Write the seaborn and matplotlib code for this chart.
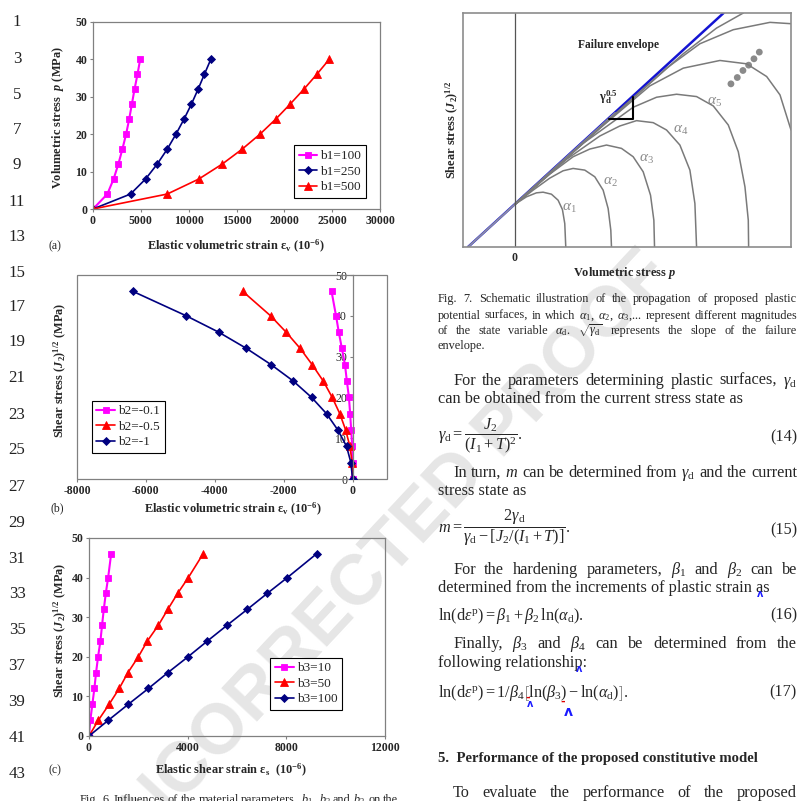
import matplotlib.pyplot as plt
import seaborn as sns
from matplotlib.patches import Rectangle

# ---------------- data read from the page ----------------
# Fig. 6(a): volumetric stress p vs elastic volumetric strain
p_a = [0, 4, 8, 12, 16, 20, 24, 28, 32, 36, 40]
ev_b1_100 = [0, 1500, 2150, 2650, 3070, 3460, 3780, 4060, 4340, 4650, 4930]
ev_b1_250 = [0, 3920, 5490, 6710, 7760, 8670, 9510, 10280, 10980, 11640, 12310]
ev_b1_500 = [0, 7760, 11050, 13500, 15590, 17450, 19090, 20590, 22030, 23390, 24690]
ticks_a_x = [0, 5000, 10000, 15000, 20000, 25000, 30000]

# Fig. 6(b): shear stress vs elastic volumetric strain
q_b = [0, 4, 8, 12, 16, 20, 24, 28, 32, 36, 40, 46]
ev_b2_01 = [0, 0, -10, -40, -70, -105, -165, -220, -310, -400, -480, -610]
ev_b2_05 = [0, -10, -77, -200, -370, -590, -850, -1170, -1520, -1930, -2380, -3190]
ev_b2_1 = [0, -48, -174, -426, -755, -1190, -1720, -2360, -3080, -3890, -4830, -6380]
ticks_b_x = [-8000, -6000, -4000, -2000, 0]

# Fig. 6(c): shear stress vs elastic shear strain
q_c = [0, 4, 8, 12, 16, 20, 24, 28, 32, 36, 40, 46]
es_b3_10 = [0, 54, 136, 218, 286, 367, 463, 530, 600, 680, 776, 898]
es_b3_50 = [0, 381, 816, 1224, 1578, 2000, 2367, 2816, 3197, 3592, 4027, 4626]
es_b3_100 = [0, 789, 1592, 2408, 3197, 4014, 4803, 5605, 6422, 7224, 8041, 9224]
ticks_c_x = [0, 4000, 8000, 12000]
ticks_y = [0, 10, 20, 30, 40, 50]

# Fig. 7 schematic (arbitrary units)
env_x = [-1.41, 6.25]
env_y = [0.0, 7.0]
env_gray_x = [-1.41, 3.0]
env_gray_y = [0.0, 4.01]
alpha1_x = [0, 0.34, 0.64, 0.84, 1.09, 1.29, 1.42, 1.49, 1.52]
alpha1_y = [1.28, 1.50, 1.62, 1.64, 1.58, 1.40, 1.12, 0.70, 0.0]
alpha2_x = [0, 0.54, 1.04, 1.44, 1.74, 2.09, 2.39, 2.64, 2.79, 2.87, 2.89]
alpha2_y = [1.28, 1.70, 2.06, 2.28, 2.35, 2.30, 2.10, 1.70, 1.15, 0.50, 0.0]
alpha3_x = [0, 1.04, 1.74, 2.24, 2.74, 3.19, 3.54, 3.84, 4.06, 4.16, 4.18]
alpha3_y = [1.28, 2.18, 2.70, 2.93, 3.05, 2.95, 2.70, 2.25, 1.55, 0.80, 0.0]
alpha4_x = [0, 1.54, 2.54, 3.14, 3.64, 4.14, 4.54, 4.94, 5.24, 5.39, 5.44]
alpha4_y = [1.28, 2.62, 3.32, 3.62, 3.78, 3.72, 3.50, 3.05, 2.30, 1.30, 0.0]
alpha5_x = [0, 2.04, 3.54, 4.24, 4.84, 5.44, 5.94, 6.39, 6.69, 6.89, 6.99, 7.00]
alpha5_y = [1.28, 3.10, 4.18, 4.48, 4.57, 4.50, 4.22, 3.65, 2.85, 1.80, 0.80, 0.0]
alpha6_x = [0, 2.54, 4.04, 5.04, 6.14, 6.94, 7.54, 7.94, 8.27]
alpha6_y = [1.28, 3.55, 4.82, 5.35, 5.58, 5.48, 5.10, 4.55, 3.50]
alpha7_x = [0, 3.04, 4.54, 5.54, 6.54, 7.64, 8.27]
alpha7_y = [1.28, 4.02, 5.35, 6.08, 6.50, 6.72, 6.68]
alpha8_x = [0, 3.54, 5.04, 6.04, 6.84]
alpha8_y = [1.28, 4.45, 5.78, 6.55, 7.00]
dots_x = [6.47, 6.66, 6.83, 7.00, 7.16, 7.32]
dots_y = [4.88, 5.07, 5.28, 5.44, 5.63, 5.83]
slope_tri_x = [2.82, 3.54, 3.54]
slope_tri_y = [3.83, 3.83, 4.50]
alpha_lab_x = [1.64, 2.86, 3.94, 4.96, 5.99]
alpha_lab_y = [1.15, 1.92, 2.62, 3.50, 4.33]

line_numbers = list(range(1, 44, 2))
line_number_y = [22, 59, 95, 130, 165, 202, 237, 273, 307, 342, 378, 415,
                 450, 487, 523, 559, 594, 630, 666, 702, 738, 774]

# ---------------- style ----------------
sns.set_style('white')
plt.rcParams['font.family'] = ['Liberation Serif', 'DejaVu Serif']
plt.rcParams['axes.unicode_minus'] = False
plt.rcParams['mathtext.fontset'] = 'custom'
plt.rcParams['mathtext.rm'] = 'Liberation Serif'
plt.rcParams['mathtext.it'] = 'Liberation Serif:italic'
plt.rcParams['mathtext.bf'] = 'Liberation Serif:bold'
plt.rcParams['mathtext.bfit'] = 'Liberation Serif:italic:bold'

MAG, NAVY, RED = '#FF00FF', '#000080', '#FF0000'
FRAME = '#808080'
W = H = 801

fig = plt.figure(figsize=(W / 100, H / 100), dpi=100)
renderer = fig.canvas.get_renderer()


def fx(x):
    return x / W


def fy(y):
    return 1 - y / H


def put(x, y, s, **kw):
    return fig.text(fx(x), fy(y), s, **kw)


def justify(words, x0, x1, y, size, **kw):
    arts = [put(x0, y, w, fontsize=size, va='baseline', ha='left', **kw) for w in words]
    widths = [a.get_window_extent(renderer).width for a in arts]
    gap = (x1 - x0 - sum(widths)) / max(len(words) - 1, 1)
    x = x0
    for a, w in zip(arts, widths):
        a.set_x(fx(x))
        x += w + gap


def make_axes(x0, y0, x1, y1):
    ax = fig.add_axes([fx(x0), fy(y1), (x1 - x0) / W, (y1 - y0) / H])
    ax.set_facecolor('none')
    return ax


def series(ax, xs, ys, label, color, marker, ms, lw):
    sns.lineplot(x=xs, y=ys, ax=ax, color=color, marker=marker, markersize=ms,
                 markeredgecolor=color, markeredgewidth=0.6, linewidth=lw,
                 label=label, estimator=None, sort=False)


def finish_chart(ax, xlim, xticks, loc, anchor):
    ax.set_xlim(*xlim)
    ax.set_ylim(0, 50)
    ax.set_xticks(xticks, labels=[str(t) for t in xticks], fontweight='bold')
    ax.set_yticks(ticks_y, labels=[str(t) for t in ticks_y], fontweight='bold')
    ax.tick_params(direction='out', length=2.5, width=0.8, color=FRAME,
                   labelsize=8.5, pad=1.5, bottom=True, left=True)
    for s in ax.spines.values():
        s.set_color(FRAME)
        s.set_linewidth(0.9)
    ax.set_xlabel('')
    ax.set_ylabel('')
    leg = ax.legend(loc=loc, bbox_to_anchor=anchor, frameon=True, fancybox=False,
                    edgecolor='black', framealpha=1, fontsize=9.5, handlelength=1.4,
                    handletextpad=0.25, borderpad=0.35, labelspacing=0.25,
                    borderaxespad=0)
    leg.get_frame().set_linewidth(0.8)


# watermark behind everything
put(380, 565, 'UNCORRECTED PROOF', rotation=47, fontsize=51, fontweight='bold',
    family='Liberation Sans', color='#e6e6e6', ha='center', va='center', zorder=-1)

# line numbers
for n, y in zip(line_numbers, line_number_y):
    put(17, y, str(n), fontsize=12.2, ha='center', va='center', color='#222222')

# ---------------- Fig. 6(a) ----------------
ax_a = make_axes(93, 22, 380, 209)
series(ax_a, ev_b1_100, p_a, 'b1=100', MAG, 's', 5, 1.5)
series(ax_a, ev_b1_250, p_a, 'b1=250', NAVY, 'D', 3.6, 1.2)
series(ax_a, ev_b1_500, p_a, 'b1=500', RED, '^', 5.5, 1.2)
finish_chart(ax_a, (0, 30000), ticks_a_x, 'lower right', (0.951, 0.059))
put(236, 246, r'Elastic volumetric strain ε$_\mathbf{v}$ (10$^{\mathbf{-6}}$)',
    fontsize=8.9, fontweight='bold', ha='center', va='center')
put(58, 118, r'Volumetric stress  $\mathbfit{p}$ (MPa)', fontsize=8.9,
    fontweight='bold', ha='center', va='center', rotation=90)
put(55, 246, '(a)', fontsize=8.5, ha='center', va='center')

# ---------------- Fig. 6(b) ----------------
ax_b = make_axes(77, 275, 387, 479)
series(ax_b, ev_b2_01, q_b, 'b2=-0.1', MAG, 's', 5, 1.5)
series(ax_b, ev_b2_05, q_b, 'b2=-0.5', RED, '^', 5.5, 1.2)
series(ax_b, ev_b2_1, q_b, 'b2=-1', NAVY, 'D', 3.6, 1.2)
finish_chart(ax_b, (-8000, 1000), ticks_b_x, 'lower left', (0.048, 0.127))
ax_b.spines['left'].set_position(('data', 0))
for side in ('top', 'right', 'bottom'):
    ax_b.spines[side].set_visible(False)
ax_b.add_patch(Rectangle((0, 0), 1, 1, transform=ax_b.transAxes, fill=False,
                         edgecolor=FRAME, linewidth=0.9, clip_on=False))
put(233, 509, r'Elastic volumetric strain ε$_\mathbf{v}$ (10$^{\mathbf{-6}}$)',
    fontsize=8.9, fontweight='bold', ha='center', va='center')
put(60, 370, r'Shear stress ($\mathbfit{J}_\mathbf{2}$)$^\mathbf{1/2}$ (MPa)',
    fontsize=8.9, fontweight='bold', ha='center', va='center', rotation=90)
put(57, 508, '(b)', fontsize=8.5, ha='center', va='center')

# ---------------- Fig. 6(c) ----------------
ax_c = make_axes(89, 538, 385, 736)
series(ax_c, es_b3_10, q_c, 'b3=10', MAG, 's', 5, 1.5)
series(ax_c, es_b3_50, q_c, 'b3=50', RED, '^', 5.5, 1.2)
series(ax_c, es_b3_100, q_c, 'b3=100', NAVY, 'D', 3.6, 1.2)
finish_chart(ax_c, (0, 12000), ticks_c_x, 'lower right', (0.855, 0.131))
put(231, 770, r'Elastic shear strain ε$_\mathbf{s}$  (10$^{\mathbf{-6}}$)',
    fontsize=8.9, fontweight='bold', ha='center', va='center')
put(60, 630, r'Shear stress ($\mathbfit{J}_\mathbf{2}$)$^\mathbf{1/2}$ (MPa)',
    fontsize=8.9, fontweight='bold', ha='center', va='center', rotation=90)
put(55, 770, '(c)', fontsize=8.5, ha='center', va='center')

justify(['Fig.', '6.', 'Influences', 'of', 'the', 'material', 'parameters,',
         r'$b_1$,', r'$b_2$', 'and', r'$b_3$', 'on', 'the'], 80, 398, 803, 8.8)

# ---------------- Fig. 7 schematic ----------------
ax7 = make_axes(463, 13, 791, 247)
sns.lineplot(x=env_x, y=env_y, ax=ax7, color='#1414d2', linewidth=1.8,
             estimator=None, sort=False)
sns.lineplot(x=env_gray_x, y=env_gray_y, ax=ax7, color='#8a8aa6', linewidth=1.4,
             estimator=None, sort=False)
for cx, cy in [(alpha1_x, alpha1_y), (alpha2_x, alpha2_y), (alpha3_x, alpha3_y),
               (alpha4_x, alpha4_y), (alpha5_x, alpha5_y), (alpha6_x, alpha6_y),
               (alpha7_x, alpha7_y), (alpha8_x, alpha8_y)]:
    sns.lineplot(x=cx, y=cy, ax=ax7, color='#7a7a7a', linewidth=1.1,
                 estimator=None, sort=False)
sns.scatterplot(x=dots_x, y=dots_y, ax=ax7, color='#8a8a8a', s=24, edgecolor='none')
sns.lineplot(x=slope_tri_x, y=slope_tri_y, ax=ax7, color='black', linewidth=1.5,
             estimator=None, sort=False)
ax7.axvline(0, color='#555555', linewidth=0.9)
for i, (lx, ly) in enumerate(zip(alpha_lab_x, alpha_lab_y), start=1):
    ax7.text(lx, ly, rf'$\alpha_{i}$', color='#8a8a8a', fontsize=11,
             ha='center', va='center')
ax7.text(3.09, 6.05, 'Failure envelope', fontsize=8.3, fontweight='bold',
         ha='center', va='center')
ax7.text(2.79, 4.45, r'$\mathbf{\gamma}_\mathbf{d}^{\mathbf{0.5}}$', fontsize=9,
         ha='center', va='center')
ax7.set_xlim(-1.56, 8.27)
ax7.set_ylim(0, 7.0)
ax7.set_xticks([])
ax7.set_yticks([])
ax7.set_xlabel('')
ax7.set_ylabel('')
for s in ax7.spines.values():
    s.set_color('#8c8c8c')
    s.set_linewidth(1.2)
put(515, 258, '0', fontsize=8.5, fontweight='bold', ha='center', va='center')
put(625, 273, r'Volumetric stress $\mathbfit{p}$', fontsize=8.9, fontweight='bold',
    ha='center', va='center')
put(452, 130, r'Shear stress ($\mathbfit{J}_\mathbf{2}$)$^\mathbf{1/2}$', fontsize=8.9,
    fontweight='bold', ha='center', va='center', rotation=90)

# ---------------- right column text ----------------
CAP, BODY = 8.8, 11.7
L0, L1, IND = 438, 797, 453

justify(['Fig.', '7.', 'Schematic', 'illustration', 'of', 'the', 'propagation', 'of',
         'proposed', 'plastic'], L0, L1, 302, CAP)
justify(['potential', 'surfaces,', 'in', 'which', r'$\alpha_1$,', r'$\alpha_2$,',
         r'$\alpha_3$,...', 'represent', 'different', 'magnitudes'], L0, L1, 319, CAP)
justify(['of', 'the', 'state', 'variable', r'$\alpha_\mathrm{d}$.',
         r'$\sqrt{\gamma_\mathrm{d}}$', 'represents', 'the', 'slope', 'of', 'the',
         'failure'], L0, L1, 334, CAP)
put(L0, 349, 'envelope.', fontsize=CAP, va='baseline')

justify(['For', 'the', 'parameters', 'determining', 'plastic', 'surfaces,',
         r'$\gamma_\mathrm{d}$'], IND, L1, 385, BODY)
put(L0, 403, 'can be obtained from the current stress state as', fontsize=BODY,
    va='baseline')
put(L0, 436, r'$\gamma_\mathrm{d} = \dfrac{J_2}{(I_1+T)^2}.$', fontsize=BODY,
    va='center')
put(L1, 437, '(14)', fontsize=BODY, ha='right', va='center')

justify(['In', 'turn,', r'$m$', 'can', 'be', 'determined', 'from',
         r'$\gamma_\mathrm{d}$', 'and', 'the', 'current'], IND, L1, 477, BODY)
put(L0, 495, 'stress state as', fontsize=BODY, va='baseline')
put(L0, 528, r'$m = \dfrac{2\gamma_\mathrm{d}}{\gamma_\mathrm{d} - [J_2/(I_1+T)]}.$',
    fontsize=BODY, va='center')
put(L1, 530, '(15)', fontsize=BODY, ha='right', va='center')

justify(['For', 'the', 'hardening', 'parameters,', r'$\beta_1$', 'and', r'$\beta_2$',
         'can', 'be'], IND, L1, 574, BODY)
put(L0, 592, 'determined from the increments of plastic strain as', fontsize=BODY,
    va='baseline')
put(L0, 620, r'$\ln(\mathrm{d}\varepsilon^\mathrm{p}) = \beta_1 + \beta_2\,\ln(\alpha_\mathrm{d}).$',
    fontsize=BODY, va='baseline')
put(L1, 615, '(16)', fontsize=BODY, ha='right', va='center')

justify(['Finally,', r'$\beta_3$', 'and', r'$\beta_4$', 'can', 'be', 'determined',
         'from', 'the'], IND, L1, 648, BODY)
put(L0, 667, 'following relationship:', fontsize=BODY, va='baseline')
put(L0, 697, r'$\ln(\mathrm{d}\varepsilon^\mathrm{p}) = 1/\beta_4\left[\ln(\beta_3) - \ln(\alpha_\mathrm{d})\right].$',
    fontsize=BODY, va='baseline')
put(L1, 692, '(17)', fontsize=BODY, ha='right', va='center')

# proof-reading marks
for x, y, s in [(760, 594, 7), (579, 669, 7), (530, 704, 7), (568, 712, 10)]:
    put(x, y, 'ʌ', fontsize=s, color='#1a1aff', ha='center', va='center',
        family='DejaVu Sans', fontweight='bold')
for x, y in [(528, 698), (563, 702)]:
    put(x, y, '-', fontsize=8, color='#e00000', ha='center', va='center',
        family='DejaVu Sans', fontweight='bold')

put(L0, 762, '5.  Performance of the proposed constitutive model', fontsize=10.6,
    fontweight='bold', va='baseline')
justify(['To', 'evaluate', 'the', 'performance', 'of', 'the', 'proposed'],
        IND, L1, 797, BODY)

fig.savefig('out.png', dpi=100)
